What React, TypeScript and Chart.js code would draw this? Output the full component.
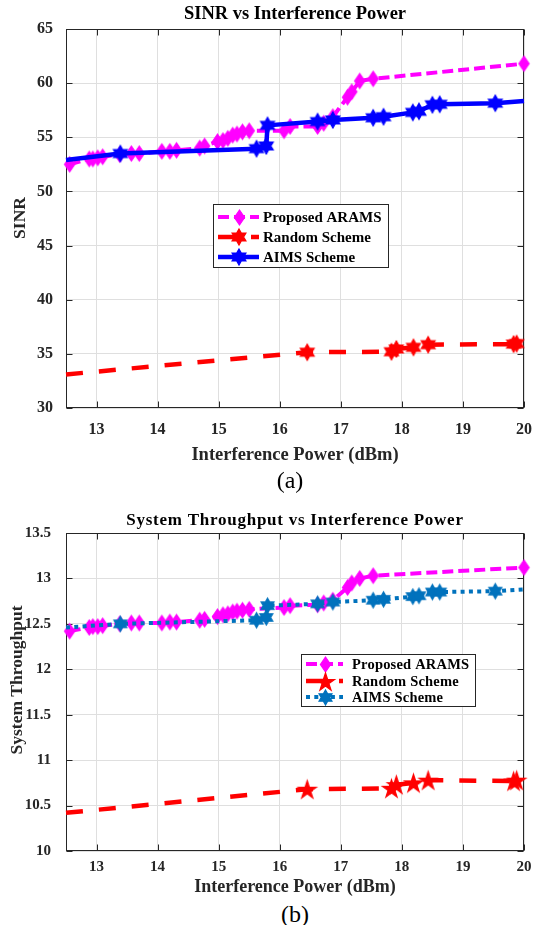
import React, { useEffect, useRef } from "react";
import { Chart, registerables } from "chart.js";

Chart.register(...registerables);

const SERIF = "'Liberation Serif', 'Times New Roman', Times, serif";

// ---------------- data ----------------
const xTicks = [13, 14, 15, 16, 17, 18, 19, 20];
const sinrTicks = [30, 35, 40, 45, 50, 55, 60, 65];
const throughputTicks = [10, 10.5, 11, 11.5, 12, 12.5, 13, 13.5];

const seriesNames = ["Proposed ARAMS", "Random Scheme", "AIMS Scheme"];

// Proposed ARAMS
const aramsX = [12.56, 12.88, 12.94, 13.02, 13.1, 13.38, 13.57, 13.7, 14.07, 14.2, 14.31, 14.69, 14.77, 14.98, 15.07, 15.15, 15.23, 15.3, 15.39, 15.5, 16.07, 16.17, 16.62, 16.72, 16.87, 17.11, 17.18, 17.31, 17.53, 20.0];
const aramsSinr = [52.5, 53.0, 53.0, 53.1, 53.2, 53.4, 53.5, 53.5, 53.7, 53.7, 53.8, 54.0, 54.2, 54.6, 54.7, 54.9, 55.2, 55.3, 55.5, 55.6, 55.6, 56.0, 56.0, 56.3, 56.9, 58.7, 59.2, 60.2, 60.4, 61.8];
const aramsThroughput = [12.42, 12.46, 12.47, 12.47, 12.48, 12.5, 12.51, 12.51, 12.51, 12.52, 12.52, 12.54, 12.55, 12.58, 12.6, 12.61, 12.63, 12.64, 12.65, 12.66, 12.68, 12.7, 12.71, 12.73, 12.76, 12.9, 12.95, 13.0, 13.03, 13.12];

// AIMS Scheme
const aimsX = [12.5, 13.39, 15.62, 15.78, 15.8, 16.62, 16.87, 17.53, 17.7, 18.18, 18.28, 18.5, 18.62, 19.53, 20.0];
const aimsSinr = [52.9, 53.5, 53.95, 54.2, 56.1, 56.45, 56.6, 56.8, 56.9, 57.3, 57.4, 58.0, 58.05, 58.15, 58.35];
const aimsThroughput = [12.46, 12.5, 12.54, 12.57, 12.7, 12.72, 12.74, 12.76, 12.77, 12.8, 12.81, 12.85, 12.85, 12.86, 12.88];
const aimsMarked = [0, 1, 1, 1, 1, 1, 1, 1, 1, 1, 1, 1, 1, 1, 0];

// Random Scheme
const randX = [12.5, 16.45, 17.83, 17.91, 18.19, 18.43, 19.83, 19.88, 20.0];
const randSinr = [33.1, 35.15, 35.2, 35.45, 35.6, 35.85, 35.9, 35.95, 35.95];
const randThroughput = [10.42, 10.68, 10.69, 10.73, 10.75, 10.78, 10.77, 10.78, 10.78];
const randMarked = [0, 1, 1, 1, 1, 1, 1, 1, 0];

// ---------------- helpers ----------------
const GRID = "#dfdfdf";
const AXIS = "#262626";

type Kind = "diamond" | "hexagram" | "pentagram";

function makeMarker(kind: Kind, color: string, size: number): HTMLCanvasElement {
  const w = Math.ceil(size * 2 + 4);
  const c = document.createElement("canvas");
  c.width = w;
  c.height = w;
  const ctx = c.getContext("2d")!;
  const cx = w / 2;
  const cy = w / 2;
  ctx.fillStyle = color;
  ctx.strokeStyle = color;
  ctx.lineWidth = 1.2;
  ctx.beginPath();
  if (kind === "diamond") {
    const hw = size * 0.68;
    ctx.moveTo(cx, cy - size);
    ctx.lineTo(cx + hw, cy);
    ctx.lineTo(cx, cy + size);
    ctx.lineTo(cx - hw, cy);
    ctx.closePath();
  } else {
    const n = kind === "hexagram" ? 6 : 5;
    const ri = kind === "hexagram" ? size / Math.sqrt(3) : size * 0.382;
    for (let i = 0; i < 2 * n; i++) {
      const r = i % 2 === 0 ? size : ri;
      const a = (i * Math.PI) / n;
      const x = cx + r * Math.sin(a);
      const y = cy - r * Math.cos(a) + (kind === "pentagram" ? size * 0.1 : 0);
      if (i === 0) ctx.moveTo(x, y);
      else ctx.lineTo(x, y);
    }
    ctx.closePath();
  }
  ctx.fill();
  ctx.stroke();
  return c;
}

interface Series {
  label: string;
  xs: number[];
  ys: number[];
  marked?: number[];
  color: string;
  width: number;
  dash: number[];
  img: HTMLCanvasElement;
  order: number;
}

interface LegendBox {
  left: number;
  top: number;
  right: number;
  bottom: number;
  rows: number[];
  lineX0: number;
  lineX1: number;
  markX: number;
  textX: number;
  font: number;
  spacing: number;
}

interface Panel {
  title: string;
  titleFont: number;
  titleSpacing: number;
  titleY: number;
  plotTop: number;
  yTitle: string;
  yTitleFont: number;
  yTitleX: number;
  yTitleY: number;
  yMin: number;
  yMax: number;
  yTicks: number[];
  yTickFont: number;
  yTickPad: number;
  yAxisWidth: number;
  xTickFont: number;
  xTickGap: number;
  xAxisHeight: number;
  xTitleFont: number;
  xTitlePadBottom: number;
  rightPad: number;
  series: Series[];
  legend: LegendBox;
}

const framePlugin = {
  id: "matlabFrame",
  beforeDatasetsDraw(chart: any) {
    const { ctx, chartArea: a, scales } = chart;
    ctx.save();
    ctx.strokeStyle = AXIS;
    ctx.lineWidth = 1;
    const l = Math.round(a.left) + 0.5;
    const t = Math.round(a.top) + 0.5;
    const r = Math.round(a.right) - 0.5;
    const b = Math.round(a.bottom) - 0.5;
    ctx.strokeRect(l, t, r - l, b - t);
    const L = 6;
    ctx.beginPath();
    scales.x.ticks.forEach((tk: any) => {
      const px = Math.round(scales.x.getPixelForValue(tk.value)) + 0.5;
      ctx.moveTo(px, t);
      ctx.lineTo(px, t + L);
      ctx.moveTo(px, b);
      ctx.lineTo(px, b - L);
    });
    scales.y.ticks.forEach((tk: any) => {
      const py = Math.round(scales.y.getPixelForValue(tk.value)) + 0.5;
      ctx.moveTo(l, py);
      ctx.lineTo(l + L, py);
      ctx.moveTo(r, py);
      ctx.lineTo(r - L, py);
    });
    ctx.stroke();
    ctx.restore();
  },
};

function titlePlugin(p: Panel) {
  return {
    id: "panelTitles",
    afterDraw(chart: any) {
      const ctx = chart.ctx as any;
      const a = chart.chartArea;
      ctx.save();
      ctx.fillStyle = "#000000";
      ctx.font = `bold ${p.titleFont}px ${SERIF}`;
      ctx.letterSpacing = `${p.titleSpacing}px`;
      ctx.textAlign = "center";
      ctx.textBaseline = "middle";
      ctx.fillText(p.title, (a.left + a.right) / 2, p.titleY);
      ctx.restore();

      ctx.save();
      ctx.fillStyle = AXIS;
      ctx.font = `bold ${p.yTitleFont}px ${SERIF}`;
      ctx.textAlign = "center";
      ctx.textBaseline = "middle";
      ctx.translate(p.yTitleX, p.yTitleY);
      ctx.rotate(-Math.PI / 2);
      ctx.fillText(p.yTitle, 0, 0);
      ctx.restore();
    },
  };
}

function legendPlugin(p: Panel) {
  return {
    id: "matlabLegend",
    afterDraw(chart: any) {
      const ctx = chart.ctx as any;
      const g = p.legend;
      ctx.save();
      ctx.fillStyle = "#ffffff";
      ctx.fillRect(g.left, g.top, g.right - g.left, g.bottom - g.top);
      ctx.strokeStyle = AXIS;
      ctx.lineWidth = 1;
      ctx.strokeRect(g.left + 0.5, g.top + 0.5, g.right - g.left, g.bottom - g.top);
      p.series.forEach((s, i) => {
        const y = g.rows[i];
        ctx.strokeStyle = s.color;
        ctx.lineWidth = s.width;
        ctx.setLineDash(s.dash);
        ctx.lineCap = "butt";
        ctx.beginPath();
        ctx.moveTo(g.lineX0, y);
        ctx.lineTo(g.lineX1, y);
        ctx.stroke();
        ctx.setLineDash([]);
        ctx.drawImage(s.img, Math.round(g.markX - s.img.width / 2), Math.round(y - s.img.height / 2));
        ctx.fillStyle = "#000000";
        ctx.font = `bold ${g.font}px ${SERIF}`;
        ctx.letterSpacing = `${g.spacing}px`;
        ctx.textBaseline = "middle";
        ctx.textAlign = "left";
        ctx.fillText(s.label, g.textX, y + 1);
      });
      ctx.restore();
    },
  };
}

function buildConfig(p: Panel): any {
  const datasets = p.series.map((s) => {
    const radii = s.xs.map((_, k) => (s.marked ? (s.marked[k] ? 6 : 0) : 6));
    return {
      label: s.label,
      data: s.xs.map((x, k) => ({ x, y: s.ys[k] })),
      borderColor: s.color,
      backgroundColor: s.color,
      borderWidth: s.width,
      borderDash: s.dash,
      borderCapStyle: "butt",
      borderJoinStyle: "round",
      pointStyle: s.img,
      pointRadius: radii,
      pointHoverRadius: radii,
      tension: 0,
      fill: false,
      clip: false,
      order: s.order,
    };
  });
  return {
    type: "line",
    data: { datasets },
    options: {
      responsive: false,
      animation: false,
      devicePixelRatio: 1,
      events: [],
      layout: { padding: { left: 0, right: p.rightPad, top: p.plotTop, bottom: 0 } },
      plugins: {
        legend: { display: false },
        tooltip: { enabled: false },
        title: { display: false },
      },
      scales: {
        x: {
          type: "linear",
          min: 12.5,
          max: 20,
          afterBuildTicks: (sc: any) => {
            sc.ticks = xTicks.map((v) => ({ value: v }));
          },
          afterFit: (sc: any) => {
            sc.height = p.xAxisHeight;
          },
          grid: { color: GRID, lineWidth: 1, drawTicks: true, tickLength: p.xTickGap, tickColor: "rgba(0,0,0,0)" },
          border: { display: false },
          ticks: {
            autoSkip: false,
            maxRotation: 0,
            minRotation: 0,
            padding: 0,
            color: AXIS,
            font: { family: SERIF, size: p.xTickFont, weight: "bold", lineHeight: 1.2 },
            callback: (v: any) => String(v),
          },
          title: {
            display: true,
            text: "Interference Power (dBm)",
            color: AXIS,
            font: { family: SERIF, size: p.xTitleFont, weight: "bold", lineHeight: 1.2 },
            padding: { top: 0, bottom: p.xTitlePadBottom },
          },
        },
        y: {
          type: "linear",
          min: p.yMin,
          max: p.yMax,
          afterBuildTicks: (sc: any) => {
            sc.ticks = p.yTicks.map((v) => ({ value: v }));
          },
          afterFit: (sc: any) => {
            sc.width = p.yAxisWidth;
          },
          grid: { color: GRID, lineWidth: 1, drawTicks: false },
          border: { display: false },
          ticks: {
            autoSkip: false,
            padding: p.yTickPad,
            color: AXIS,
            font: { family: SERIF, size: p.yTickFont, weight: "bold", lineHeight: 1.2 },
            callback: (v: any) => String(v),
          },
          title: { display: false },
        },
      },
    },
    plugins: [framePlugin, titlePlugin(p), legendPlugin(p)],
  };
}

function sinrPanel(): Panel {
  const series: Series[] = [
    { label: seriesNames[0], xs: aramsX, ys: aramsSinr, color: "#ff00ff", width: 4, dash: [11, 5], img: makeMarker("diamond", "#ff00ff", 7.5), order: 3 },
    { label: seriesNames[1], xs: randX, ys: randSinr, marked: randMarked, color: "#ff0000", width: 4.5, dash: [17, 16], img: makeMarker("hexagram", "#ff0000", 8), order: 2 },
    { label: seriesNames[2], xs: aimsX, ys: aimsSinr, marked: aimsMarked, color: "#0000ff", width: 4.5, dash: [], img: makeMarker("hexagram", "#0000ff", 8), order: 1 },
  ];
  return {
    title: "SINR vs Interference Power",
    titleFont: 18.5,
    titleSpacing: 0,
    titleY: 14,
    plotTop: 29,
    yTitle: "SINR",
    yTitleFont: 17.5,
    yTitleX: 20,
    yTitleY: 218,
    yMin: 30,
    yMax: 65,
    yTicks: sinrTicks,
    yTickFont: 16,
    yTickPad: 13,
    yAxisWidth: 66,
    xTickFont: 16,
    xTickGap: 12.4,
    xAxisHeight: 62,
    xTitleFont: 18.5,
    xTitlePadBottom: 4,
    rightPad: 9,
    series,
    legend: { left: 213, top: 204, right: 388, bottom: 267, rows: [217, 237, 257], lineX0: 218, lineX1: 259, markX: 239, textX: 263, font: 15, spacing: 0 },
  };
}

function throughputPanel(): Panel {
  const series: Series[] = [
    { label: seriesNames[0], xs: aramsX, ys: aramsThroughput, color: "#ff00ff", width: 4, dash: [11, 5], img: makeMarker("diamond", "#ff00ff", 7.5), order: 3 },
    { label: seriesNames[1], xs: randX, ys: randThroughput, marked: randMarked, color: "#ff0000", width: 4.5, dash: [17, 16], img: makeMarker("pentagram", "#ff0000", 9.5), order: 2 },
    { label: seriesNames[2], xs: aimsX, ys: aimsThroughput, marked: aimsMarked, color: "#0072bd", width: 4, dash: [4, 4.3], img: makeMarker("hexagram", "#0072bd", 7.5), order: 1 },
  ];
  return {
    title: "System Throughput vs Interference Power",
    titleFont: 17,
    titleSpacing: 0.75,
    titleY: 23,
    plotTop: 35,
    yTitle: "System Throughput",
    yTitleFont: 17.5,
    yTitleX: 17,
    yTitleY: 182,
    yMin: 10,
    yMax: 13.5,
    yTicks: throughputTicks,
    yTickFont: 15,
    yTickPad: 15,
    yAxisWidth: 66,
    xTickFont: 15,
    xTickGap: 7,
    xAxisHeight: 49,
    xTitleFont: 18,
    xTitlePadBottom: 1.5,
    rightPad: 9,
    series,
    legend: { left: 301, top: 156, right: 475, bottom: 208, rows: [166, 183, 199], lineX0: 306, lineX1: 343, markX: 325, textX: 352, font: 14.5, spacing: 0.2 },
  };
}

function ChartPanel({ top, height, make }: { top: number; height: number; make: () => Panel }) {
  const ref = useRef<HTMLCanvasElement>(null);
  useEffect(() => {
    if (!ref.current) return;
    const chart = new Chart(ref.current, buildConfig(make()));
    return () => chart.destroy();
  }, []);
  return (
    <canvas
      ref={ref}
      width={534}
      height={height}
      style={{ position: "absolute", left: 0, top, width: 534, height, display: "block" }}
    />
  );
}

export default function App() {
  const caption: React.CSSProperties = {
    position: "absolute",
    width: 100,
    textAlign: "center",
    fontFamily: SERIF,
    fontSize: 24,
    lineHeight: "28px",
    color: "#000",
  };
  return (
    <div style={{ position: "absolute", left: 0, top: 0, width: 534, height: 925, background: "#ffffff", overflow: "hidden" }}>
      <ChartPanel top={0} height={470} make={sinrPanel} />
      <div style={{ ...caption, left: 240, top: 466 }}>(a)</div>
      <ChartPanel top={498} height={402} make={throughputPanel} />
      <div style={{ ...caption, left: 245, top: 900 }}>(b)</div>
    </div>
  );
}
